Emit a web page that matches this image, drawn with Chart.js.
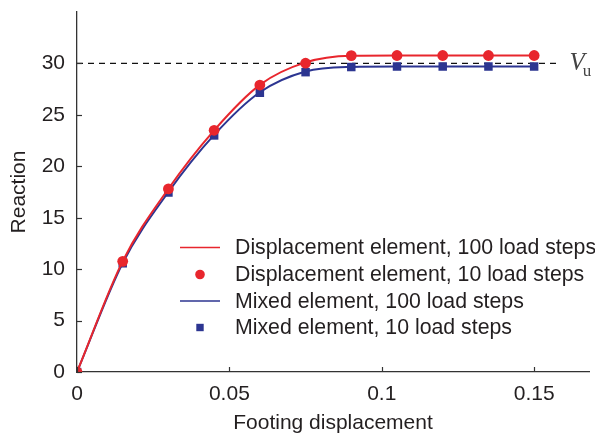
<!DOCTYPE html>
<html>
<head>
<meta charset="utf-8">
<script src="https://cdn.jsdelivr.net/npm/chart.js@4.4.0/dist/chart.umd.min.js"></script>
<style>
  html, body { margin: 0; padding: 0; background: #ffffff; }
  #wrap { width: 595px; height: 436px; }
</style>
</head>
<body>
<div id="wrap"><canvas id="chart" width="595" height="436"></canvas></div>
<script>
// Footing displacement at each of the 10 load steps
const displacement = [0, 0.015, 0.03, 0.045, 0.06, 0.075, 0.09, 0.105, 0.12, 0.135, 0.15];

// Reaction, displacement element
const dispElement100 = [0, 10.78, 17.82, 23.5, 27.92, 30.1, 30.74, 30.77, 30.77, 30.77, 30.77];
const dispElement10  = [0, 10.76, 17.8, 23.5, 27.9, 30.02, 30.76, 30.77, 30.77, 30.77, 30.77];

// Reaction, mixed element
const mixedElement100 = [0, 10.6, 17.5, 23.05, 27.2, 29.22, 29.66, 29.7, 29.7, 29.7, 29.7];
const mixedElement10  = [0, 10.57, 17.45, 23.0, 27.15, 29.15, 29.65, 29.7, 29.7, 29.7, 29.7];

// Ultimate load reference line
const ultimateLoad = 30;
const ultimateLineX = [0, 0.158];

// Axis ticks
const xTicks = [0, 0.05, 0.1, 0.15];
const yTicks = [0, 5, 10, 15, 20, 25, 30];

const legendLabels = [
  'Displacement element, 100 load steps',
  'Displacement element, 10 load steps',
  'Mixed element, 100 load steps',
  'Mixed element, 10 load steps'
];

const RED = '#e8262d';
const BLUE = '#2c3591';
const INK = '#231f20';
const FONT = '"Liberation Sans", Arial, Helvetica, sans-serif';

const pts = (xs, ys) => xs.map((x, i) => ({ x: x, y: ys[i] }));

// Inward tick marks, axis titles, V_u label and the legend
const decorations = {
  id: 'decorations',
  afterDraw(chart) {
    const ctx = chart.ctx;
    const xs = chart.scales.x, ys = chart.scales.y;
    const area = chart.chartArea;
    ctx.save();
    ctx.strokeStyle = '#333333';
    ctx.lineWidth = 1.2;
    xTicks.forEach(v => {
      const px = Math.round(xs.getPixelForValue(v)) + 0.5;
      ctx.beginPath(); ctx.moveTo(px, area.bottom); ctx.lineTo(px, area.bottom - 5); ctx.stroke();
    });
    yTicks.forEach(v => {
      const py = Math.round(ys.getPixelForValue(v)) + 0.5;
      ctx.beginPath(); ctx.moveTo(area.left, py); ctx.lineTo(area.left + 5, py); ctx.stroke();
    });

    // axis titles
    ctx.fillStyle = INK;
    ctx.font = '21px ' + FONT;
    ctx.textAlign = 'center';
    ctx.textBaseline = 'middle';
    ctx.fillText('Footing displacement', (area.left + area.right) / 2, 423);
    ctx.save();
    ctx.translate(19, (area.top + area.bottom) / 2);
    ctx.rotate(-Math.PI / 2);
    ctx.fillText('Reaction', 0, 0);
    ctx.restore();

    // V_u label at the end of the dashed line
    const vx = xs.getPixelForValue(ultimateLineX[1]) + 11;
    const vy = ys.getPixelForValue(ultimateLoad);
    ctx.fillStyle = '#444444';
    ctx.textAlign = 'left';
    ctx.textBaseline = 'middle';
    ctx.font = 'italic 25px "Liberation Serif", "DejaVu Serif", serif';
    ctx.fillText('V', vx, vy);
    const vw = ctx.measureText('V').width;
    ctx.font = '17px "Liberation Serif", "DejaVu Serif", serif';
    ctx.fillText('u', vx + vw - 2, vy + 8);

    // legend
    const lx = 180, rowY = [247.5, 274.5, 301, 327.5];
    const styles = [
      { kind: 'line', color: RED },
      { kind: 'circle', color: RED },
      { kind: 'line', color: BLUE },
      { kind: 'square', color: BLUE }
    ];
    ctx.font = '21.3px ' + FONT;
    styles.forEach((s, i) => {
      const y = rowY[i];
      if (s.kind === 'line') {
        ctx.strokeStyle = s.color; ctx.lineWidth = 1.5;
        ctx.beginPath(); ctx.moveTo(lx, y); ctx.lineTo(lx + 40, y); ctx.stroke();
      } else if (s.kind === 'circle') {
        ctx.fillStyle = s.color;
        ctx.beginPath(); ctx.arc(lx + 20, y, 4.8, 0, Math.PI * 2); ctx.fill();
      } else {
        ctx.fillStyle = s.color;
        ctx.fillRect(lx + 20 - 3.7, y - 3.7, 7.4, 7.4);
      }
      ctx.fillStyle = INK;
      ctx.textAlign = 'left';
      ctx.textBaseline = 'middle';
      ctx.fillText(legendLabels[i], 235, y + 1);
    });
    ctx.restore();
  }
};

new Chart(document.getElementById('chart'), {
  type: 'line',
  data: {
    datasets: [
      {
        label: legendLabels[1],
        data: pts(displacement, dispElement10),
        showLine: false,
        pointStyle: 'circle',
        pointRadius: 5.4,
        pointBackgroundColor: RED,
        pointBorderWidth: 0,
        borderColor: RED
      },
      {
        label: legendLabels[0],
        data: pts(displacement, dispElement100),
        borderColor: RED,
        borderWidth: 2,
        pointRadius: 0,
        cubicInterpolationMode: 'monotone',
        fill: false
      },
      {
        label: legendLabels[3],
        data: pts(displacement, mixedElement10),
        showLine: false,
        pointStyle: 'rect',
        pointRadius: 6,
        pointBackgroundColor: BLUE,
        pointBorderWidth: 0,
        borderColor: BLUE
      },
      {
        label: legendLabels[2],
        data: pts(displacement, mixedElement100),
        borderColor: BLUE,
        borderWidth: 2,
        pointRadius: 0,
        cubicInterpolationMode: 'monotone',
        fill: false
      },
      {
        label: 'V_u',
        data: pts(ultimateLineX, [ultimateLoad, ultimateLoad]),
        borderColor: '#111111',
        borderWidth: 1.2,
        borderDash: [6, 5],
        pointRadius: 0,
        fill: false
      }
    ]
  },
  options: {
    responsive: false,
    animation: false,
    devicePixelRatio: 1,
    layout: { padding: { left: 0, top: 12, right: 0, bottom: 0 } },
    plugins: { legend: { display: false }, tooltip: { enabled: false } },
    scales: {
      x: {
        type: 'linear',
        min: 0,
        max: 0.168,
        afterBuildTicks: s => { s.ticks = xTicks.map(v => ({ value: v })); },
        afterFit: s => { s.height = 64; s.paddingLeft = 0; s.paddingRight = 0; },
        grid: { display: true, drawOnChartArea: false, drawTicks: false },
        border: { display: true, color: '#333333', width: 1.3 },
        ticks: {
          color: INK,
          padding: 10,
          maxRotation: 0,
          font: { family: FONT, size: 21 },
          callback: v => String(v)
        }
      },
      y: {
        type: 'linear',
        min: 0,
        max: 35,
        afterBuildTicks: s => { s.ticks = yTicks.map(v => ({ value: v })); },
        afterFit: s => { s.width = 77; s.paddingTop = 0; s.paddingBottom = 0; },
        grid: { display: true, drawOnChartArea: false, drawTicks: false },
        border: { display: true, color: '#333333', width: 1.3 },
        ticks: {
          color: INK,
          padding: 12,
          font: { family: FONT, size: 21 },
          callback: v => String(v)
        }
      }
    }
  },
  plugins: [decorations]
});
</script>
</body>
</html>
